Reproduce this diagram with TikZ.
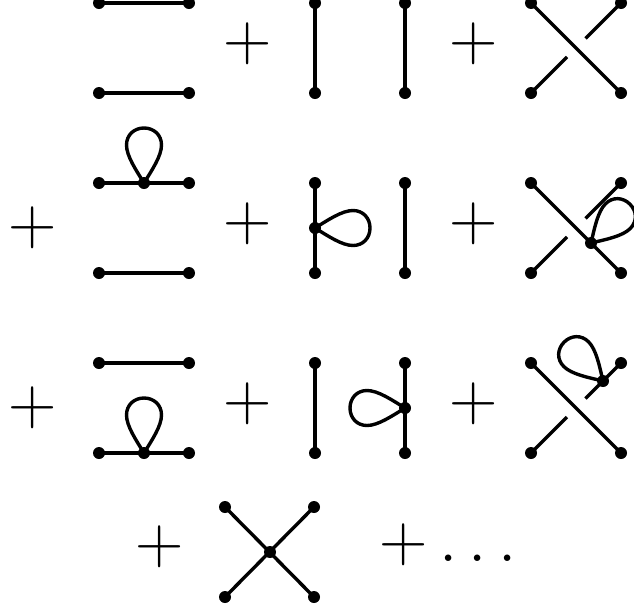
\RequirePackage{fix-cm}
\documentclass[tikz,border=0pt]{standalone}
\tikzset{
  wire/.style={line width=3.4pt,line cap=butt,black},
  dot/.style={circle,fill=black,inner sep=0pt,minimum size=12pt},
  vtx/.style={circle,fill=black,inner sep=0pt,minimum size=12pt},
  plus/.style={inner sep=0pt,font=\fontsize{67}{67}\selectfont},
}
% \tear{node}{angle}: teardrop self-loop leaving a vertex along the given direction
\newcommand{\tear}[2]{\draw[wire,shift={(#1.center)},rotate=#2]
  (0,0) .. controls (13,8) and (27,17.5) .. (38,17.5)
        .. controls (48,17.5) and (55,10) .. (55,0)
        .. controls (55,-10) and (48,-17.5) .. (38,-17.5)
        .. controls (27,-17.5) and (13,-8) .. (0,0);}
\begin{document}
\begin{tikzpicture}[x=1pt,y=-1pt]
\useasboundingbox (0,0) rectangle (634,611);
\clip (0,0) rectangle (634,611);
% row 1
\node[dot] (a1) at (99,3) {}; \node[dot] (a2) at (189,3) {};
\node[dot] (a3) at (99,93) {}; \node[dot] (a4) at (189,93) {};
\draw[wire] (a1.center) -- (a2.center); \draw[wire] (a3.center) -- (a4.center);
\node[plus] (p1) at (247.5,44) {$+$};
\node[dot] (b1) at (315,3) {}; \node[dot] (b2) at (405,3) {};
\node[dot] (b3) at (315,93) {}; \node[dot] (b4) at (405,93) {};
\draw[wire] (b1.center) -- (b3.center); \draw[wire] (b2.center) -- (b4.center);
\node[plus] (p2) at (473.5,44) {$+$};
\node[dot] (c1) at (531,3) {}; \node[dot] (c2) at (621,3) {};
\node[dot] (c3) at (531,93) {}; \node[dot] (c4) at (621,93) {};
\coordinate (c5) at (567,57); \coordinate (c6) at (585.5,38.5);
\draw[wire] (c1.center) -- (c4.center); \draw[wire] (c3.center) -- (c5); \draw[wire] (c6) -- (c2.center);
% row 2
\node[plus] (p3) at (32.5,228) {$+$};
\node[dot] (d1) at (99,183) {}; \node[dot] (d2) at (189,183) {};
\node[dot] (d3) at (99,273) {}; \node[dot] (d4) at (189,273) {};
\node[vtx] (d5) at (144,183) {};
\draw[wire] (d1.center) -- (d2.center); \draw[wire] (d3.center) -- (d4.center);
\tear{d5}{90}
\node[plus] (p4) at (247.5,224) {$+$};
\node[dot] (e1) at (315,183) {}; \node[dot] (e2) at (405,183) {};
\node[dot] (e3) at (315,273) {}; \node[dot] (e4) at (405,273) {};
\node[vtx] (e5) at (315,228) {};
\draw[wire] (e1.center) -- (e3.center); \draw[wire] (e2.center) -- (e4.center);
\tear{e5}{0}
\node[plus] (p5) at (473.5,224) {$+$};
\node[dot] (f1) at (531,183) {}; \node[dot] (f2) at (621,183) {};
\node[dot] (f3) at (531,273) {}; \node[dot] (f4) at (621,273) {};
\node[vtx] (f5) at (591,243) {};
\coordinate (f6) at (567,237); \coordinate (f7) at (585.5,218.5);
\draw[wire] (f1.center) -- (f4.center); \draw[wire] (f3.center) -- (f6); \draw[wire] (f7) -- (f2.center);
\tear{f5}{45}
% row 3
\node[plus] (p6) at (32.5,408) {$+$};
\node[dot] (g1) at (99,363) {}; \node[dot] (g2) at (189,363) {};
\node[dot] (g3) at (99,453) {}; \node[dot] (g4) at (189,453) {};
\node[vtx] (g5) at (144,453) {};
\draw[wire] (g1.center) -- (g2.center); \draw[wire] (g3.center) -- (g4.center);
\tear{g5}{90}
\node[plus] (p7) at (247.5,404) {$+$};
\node[dot] (h1) at (315,363) {}; \node[dot] (h2) at (405,363) {};
\node[dot] (h3) at (315,453) {}; \node[dot] (h4) at (405,453) {};
\node[vtx] (h5) at (405,408) {};
\draw[wire] (h1.center) -- (h3.center); \draw[wire] (h2.center) -- (h4.center);
\tear{h5}{180}
\node[plus] (p8) at (473.5,404) {$+$};
\node[dot] (i1) at (531,363) {}; \node[dot] (i2) at (621,363) {};
\node[dot] (i3) at (531,453) {}; \node[dot] (i4) at (621,453) {};
\node[vtx] (i5) at (603,381) {};
\coordinate (i6) at (567,417); \coordinate (i7) at (585.5,398.5);
\draw[wire] (i1.center) -- (i4.center); \draw[wire] (i3.center) -- (i6); \draw[wire] (i7) -- (i2.center);
\tear{i5}{135}
% row 4
\node[plus] (p9) at (159.5,547) {$+$};
\node[dot] (j1) at (225,507) {}; \node[dot] (j2) at (314,507) {};
\node[dot] (j3) at (225,597) {}; \node[dot] (j4) at (314,597) {};
\node[vtx] (j5) at (270,552) {};
\draw[wire] (j1.center) -- (j4.center); \draw[wire] (j3.center) -- (j2.center);
\node[plus] (p10) at (403.5,545) {$+$};
\node[plus,anchor=base] (q) at (478,561) {$\dots$};
\end{tikzpicture}
\end{document}
